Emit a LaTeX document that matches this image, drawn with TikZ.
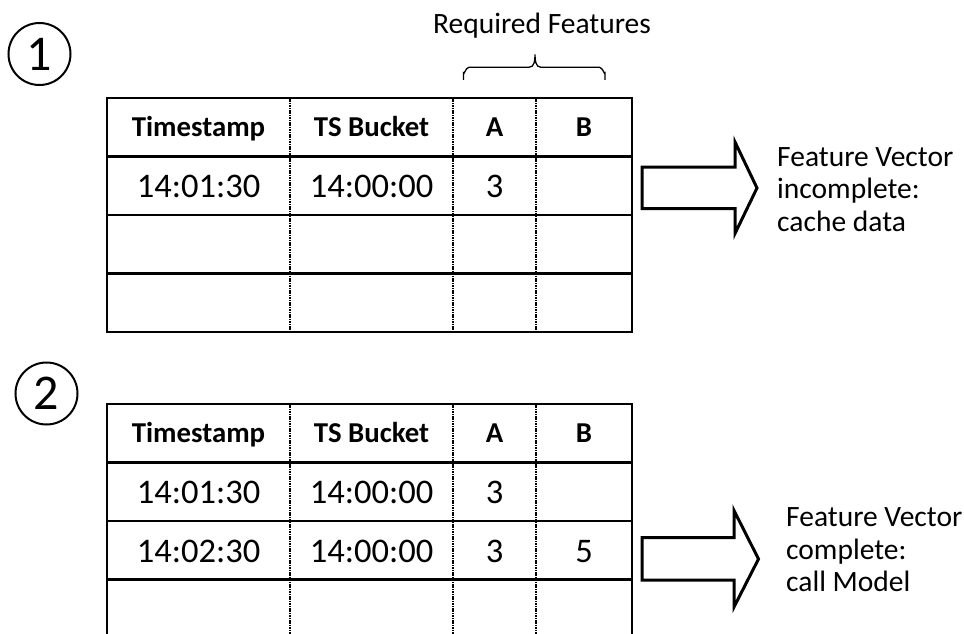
\documentclass[tikz,border=0pt]{standalone}
\usepackage{fontspec}
\setmainfont{Carlito}
\begin{document}
\begin{tikzpicture}[x=1pt,y=-1pt,
  rule/.style={line width=2.6pt, line cap=rect},
  dotrule/.style={line width=2.4pt, dash pattern=on 1.5pt off 0.9pt},
  hdr/.style={font=\fontsize{28.8}{34}\bfseries\selectfont, anchor=base, inner sep=0},
  cell/.style={font=\fontsize{34.5}{40}\selectfont, anchor=base, inner sep=0},
  note/.style={font=\fontsize{29.5}{32.5}\selectfont, align=left, anchor=base west, inner sep=0},
  bigarrow/.style={line width=3pt, line join=miter, miter limit=10},
  badge/.style={circle, draw, line width=2pt, minimum size=62pt, inner sep=0,
                font=\fontsize{50}{50}\selectfont},
  brace/.style={line width=1.3pt}]
\useasboundingbox (0,0) rectangle (964,634);
\clip (0,0) rectangle (964,634);

% step badges
\node[badge] (one) at (39.5,54) {1};
\node[badge] (two) at (46.5,393.5) {2};

% ---- table 1 ----
\draw[rule] (107,98) rectangle (632,332);
\foreach \y in {156.5,215,273.5} \draw[rule] (107,\y) -- (632,\y);
\foreach \x in {290,453,536} \draw[dotrule] (\x,98) -- (\x,332);

\node[hdr] (t1h1) at (198.5,136.5) {Timestamp};
\node[hdr] (t1h2) at (371.5,136.5) {TS Bucket};
\node[hdr] (t1h3) at (494.5,136.5) {A};
\node[hdr] (t1h4) at (584,136.5) {B};
\node[cell] (t1r1c1) at (198.5,197.5) {14:01:30};
\node[cell] (t1r1c2) at (371.5,197.5) {14:00:00};
\node[cell] (t1r1c3) at (494.5,197.5) {3};

% required-features brace
\draw[brace] (463.5,80) -- (463.5,73) to[out=-90,in=180] (469,67.3) -- (529,67.3)
  to[out=0,in=-90] (535,54.5) to[out=-90,in=180] (541,67.3) -- (599.5,67.3)
  to[out=0,in=-90] (605,73) -- (605,80);
\node[font=\fontsize{29.5}{32}\selectfont, anchor=base, inner sep=0] (req) at (542,33.5) {Required Features};

% ---- table 2 (continues past the lower edge) ----
\draw[rule] (107,645) -- (107,404) -- (632,404) -- (632,645);
\foreach \y in {462.5,521,579.5} \draw[rule] (107,\y) -- (632,\y);
\foreach \x in {290,453,536} \draw[dotrule] (\x,404) -- (\x,645);

\node[hdr] (t2h1) at (198.5,442.5) {Timestamp};
\node[hdr] (t2h2) at (371.5,442.5) {TS Bucket};
\node[hdr] (t2h3) at (494.5,442.5) {A};
\node[hdr] (t2h4) at (584,442.5) {B};
\node[cell] (t2r1c1) at (198.5,503.5) {14:01:30};
\node[cell] (t2r1c2) at (371.5,503.5) {14:00:00};
\node[cell] (t2r1c3) at (494.5,503.5) {3};
\node[cell] (t2r2c1) at (198.5,562) {14:02:30};
\node[cell] (t2r2c2) at (371.5,562) {14:00:00};
\node[cell] (t2r2c3) at (494.5,562) {3};
\node[cell] (t2r2c4) at (584,562) {5};

% ---- block arrows ----
\draw[bigarrow] (642,167) -- (735,167) -- (735,142) -- (757,188) -- (735,233.5)
  -- (735,208.5) -- (642,208.5) -- cycle;
\draw[bigarrow] (642,537.5) -- (734,537.5) -- (734,510.5) -- (758.5,559) -- (734,607)
  -- (734,580) -- (642,580) -- cycle;

% ---- outcome notes (anchored at the baseline of their last line) ----
\node[note] (n1) at (777,231) {Feature Vector\\incomplete:\\cache data};
\node[note] (n2) at (786,591.5) {Feature Vector\\complete:\\call Model};
\end{tikzpicture}
\end{document}
